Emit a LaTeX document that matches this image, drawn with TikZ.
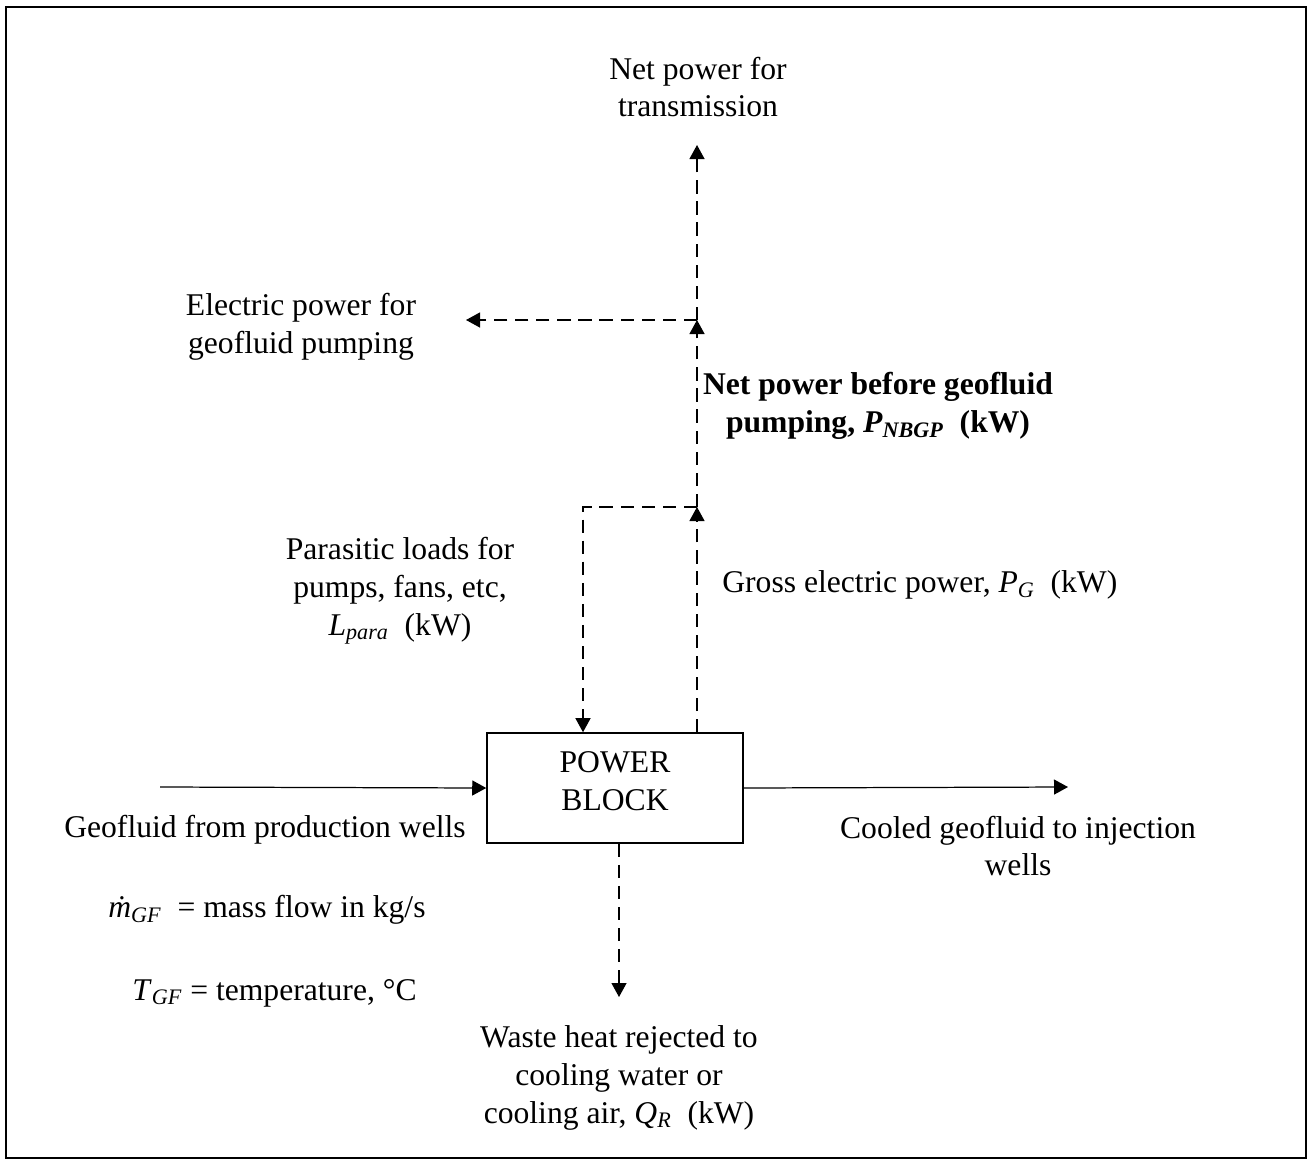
\documentclass[tikz,border=0pt]{standalone}
\usepackage{fontspec}
\setmainfont{Liberation Serif}
\usetikzlibrary{arrows.meta,positioning,calc}

\tikzset{
  flow/.style={line width=0.7pt,-{Triangle[length=0.28cm,width=0.3cm]}},
  power/.style={flow,dash pattern=on 7.5pt off 4.5pt},
  lbl/.style={align=center,inner sep=0pt},
}

\begin{document}
\begin{tikzpicture}[x=0.02cm,y=-0.02cm,font=\fontsize{18}{21.5}\selectfont]
    \useasboundingbox (0,0) rectangle (1308,1160);
    % Frame
    \draw[line width=1.2pt] (6,7) rectangle (1306,1158);

    % Power block
    \node[draw,line width=0.9pt,minimum width=5.12cm,minimum height=2.2cm] (block) at (615,788) {};
    \node[lbl] (blocktxt) at (615,781) {POWER\\BLOCK};

    % Junctions and free ends
    \coordinate (geoin) at (160,787);
    \coordinate (geoout) at (1068,787);
    \coordinate (waste) at (619,997);
    \coordinate (gross) at (697,507);
    \coordinate (para) at (583,507);
    \coordinate (nbgp) at (697,320);
    \coordinate (pump) at (466,320);
    \coordinate (trans) at (697,145);

    % Geofluid in and out
    \draw[flow] (geoin) -- (block.west);
    \draw[flow] (block.east) -- (geoout);

    % Power and heat streams
    \draw[power] (block.south -| waste) -- (waste);
    \draw[power] (block.north -| gross) -- (gross);
    \draw[power] (gross) -- (para) -- (block.north -| para);
    \draw[power] (gross) -- (nbgp);
    \draw[power] (nbgp) -- (pump);
    \draw[power] (nbgp) -- (trans);

    % Labels
    \node[lbl] (transtxt) at (698,87) {Net power for\\transmission};
    \node[lbl] (pumptxt) at (301,327) {Electric power for\\geofluid pumping};
    \node[lbl,font=\fontsize{18}{21.5}\selectfont\bfseries] (nbgptxt) at (878,406) {Net power before geofluid\\pumping, \textit{P}\textsubscript{\textit{NBGP}}\ \ (kW)};
    \node[lbl] (paratxt) at (400,591) {Parasitic loads for\\pumps, fans, etc,\\\textit{L}\textsubscript{\textit{para}}\ \ (kW)};
    \node[lbl,anchor=west] (grosstxt) at (722,585) {Gross electric power, \textit{P}\textsubscript{\textit{G}}\ \ (kW)};
    \node[lbl] (geointxt) at (265,830) {Geofluid from production wells};
    \node[lbl] (geoouttxt) at (1018,846) {Cooled geofluid to injection\\wells};
    \node[lbl,anchor=west] (mdottxt) at (108,910) {\textit{ṁ}\textsubscript{\textit{GF}}\ \ = mass flow in kg/s};
    \node[lbl,anchor=west] (tgftxt) at (132,993) {\textit{T}\textsubscript{\textit{GF}} = temperature, °C};
    \node[lbl] (wastetxt) at (619,1078) {Waste heat rejected to\\cooling water or\\cooling air, \textit{Q}\textsubscript{\textit{R}}\ \ (kW)};
\end{tikzpicture}
\end{document}
